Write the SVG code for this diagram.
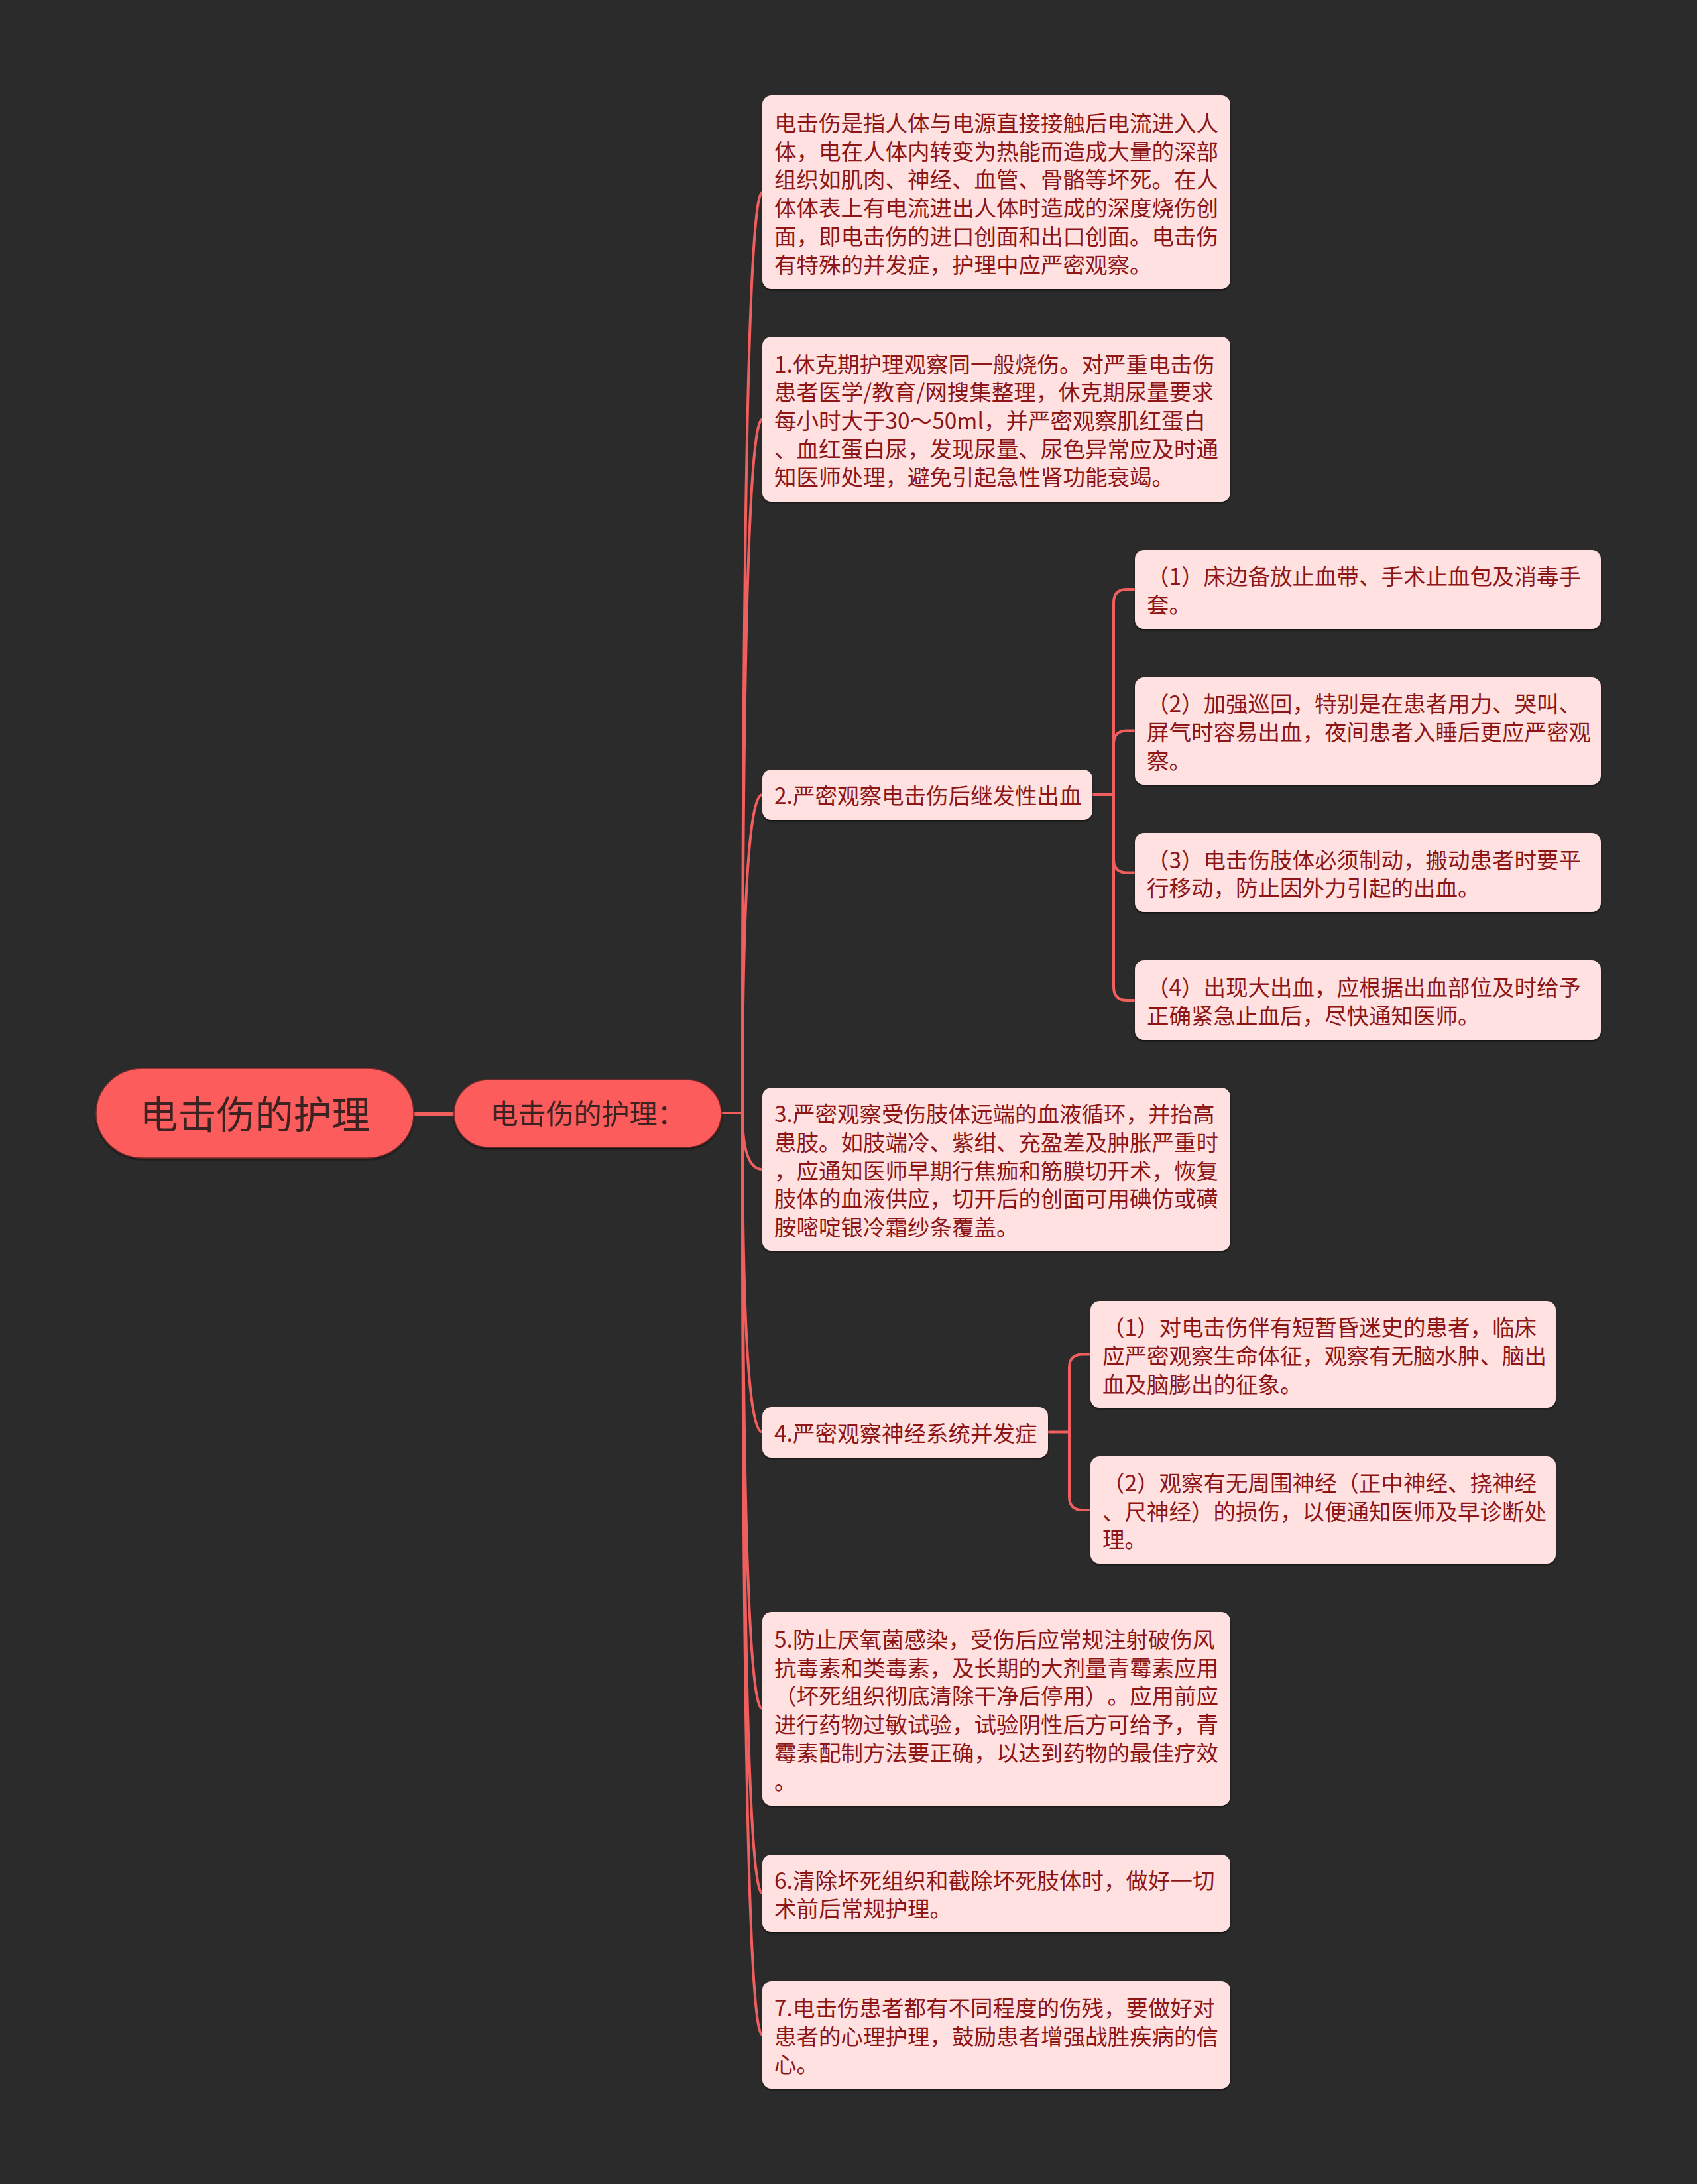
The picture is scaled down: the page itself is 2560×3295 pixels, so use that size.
<svg xmlns="http://www.w3.org/2000/svg" width="2560" height="3295" viewBox="0 0 2560 3295">
<style>
.bg{fill:#2b2b2b}
.leaf{fill:#ffe1e1;filter:url(#sh)}
.root{fill:#fd5b5b;stroke:#7a2a2a;stroke-width:1.5;filter:url(#sh)}
.t{font-family:"Noto Sans CJK SC","Noto Sans",sans-serif;font-size:33.5px;fill:#8e1616;text-spacing-trim:space-all}
.tr{font-family:"Noto Sans CJK SC","Noto Sans",sans-serif;font-size:58px;fill:#3d2222;text-anchor:middle}
.ts{font-family:"Noto Sans CJK SC","Noto Sans",sans-serif;font-size:42px;fill:#3d2222;text-anchor:middle}
.c{fill:none;stroke:#f05e5e;stroke-width:4;stroke-linecap:round}
.cw{fill:none;stroke:#f05e5e;stroke-width:6}
</style>
<defs>
<filter id="sh" x="-5%" y="-5%" width="110%" height="115%">
<feDropShadow dx="0" dy="2" stdDeviation="1.5" flood-color="#000" flood-opacity="0.6"/>
</filter>
</defs>
<rect class="bg" x="0" y="0" width="2560" height="3295"/>
<g id="connectors">
<path class="cw" d="M624 1680 H685"/>
<path class="c" d="M1088 1679 H1120"/>
<path class="c" d="M1120 1679 Q1120 290 1150 290"/>
<path class="c" d="M1120 1679 Q1120 632.5 1150 632.5"/>
<path class="c" d="M1120 1679 Q1120 1199 1150 1199"/>
<path class="c" d="M1120 1679 Q1120 1764 1150 1764"/>
<path class="c" d="M1120 1679 Q1120 2160.5 1150 2160.5"/>
<path class="c" d="M1120 1679 Q1120 2578 1150 2578"/>
<path class="c" d="M1120 1679 Q1120 2856.5 1150 2856.5"/>
<path class="c" d="M1120 1679 Q1120 3070 1150 3070"/>
<path class="c" d="M1648 1199 H1680"/>
<path class="c" d="M1680 1199 V909 Q1680 889 1700 889 H1712"/>
<path class="c" d="M1680 1199 V1122.5 Q1680 1102.5 1700 1102.5 H1712"/>
<path class="c" d="M1680 1199 V1296.5 Q1680 1316.5 1700 1316.5 H1712"/>
<path class="c" d="M1680 1199 V1489 Q1680 1509 1700 1509 H1712"/>
<path class="c" d="M1581 2160.5 H1613"/>
<path class="c" d="M1613 2160.5 V2063.5 Q1613 2043.5 1633 2043.5 H1645"/>
<path class="c" d="M1613 2160.5 V2258 Q1613 2278 1633 2278 H1645"/>
</g>
<g id="root">
<rect class="root" x="145" y="1612" width="479" height="135" rx="70" ry="67"/>
<text class="tr" x="384.5" y="1703">电击伤的护理</text>
</g>
<g id="main">
<rect class="root" x="685" y="1629" width="403" height="102" rx="52" ry="51"/>
<text class="ts" x="886.5" y="1696">电击伤的护理：</text>
</g>
<g id="n0">
<rect class="leaf" x="1150" y="144" width="706" height="292" rx="14"/>
<text class="t" x="1168"><tspan x="1168" y="198">电击伤是指人体与电源直接接触后电流进入人</tspan><tspan x="1168" y="240.7">体，电在人体内转变为热能而造成大量的深部</tspan><tspan x="1168" y="283.4">组织如肌肉、神经、血管、骨骼等坏死。在人</tspan><tspan x="1168" y="326.1">体体表上有电流进出人体时造成的深度烧伤创</tspan><tspan x="1168" y="368.8">面，即电击伤的进口创面和出口创面。电击伤</tspan><tspan x="1168" y="411.5">有特殊的并发症，护理中应严密观察。</tspan></text>
</g>
<g id="n1">
<rect class="leaf" x="1150" y="508" width="706" height="249" rx="14"/>
<text class="t" x="1168"><tspan x="1168" y="561.6">1.休克期护理观察同一般烧伤。对严重电击伤</tspan><tspan x="1168" y="604.3">患者医学/教育/网搜集整理，休克期尿量要求</tspan><tspan x="1168" y="647">每小时大于30～50ml，并严密观察肌红蛋白</tspan><tspan x="1168" y="689.7">、血红蛋白尿，发现尿量、尿色异常应及时通</tspan><tspan x="1168" y="732.4">知医师处理，避免引起急性肾功能衰竭。</tspan></text>
</g>
<g id="n2">
<rect class="leaf" x="1150" y="1161" width="498" height="76" rx="14"/>
<text class="t" x="1168" y="1212.5">2.严密观察电击伤后继发性出血</text>
</g>
<g id="c1">
<rect class="leaf" x="1712" y="830" width="703" height="119" rx="14"/>
<text class="t" x="1730"><tspan x="1730" y="882.2">（1）床边备放止血带、手术止血包及消毒手</tspan><tspan x="1730" y="924.9">套。</tspan></text>
</g>
<g id="c2">
<rect class="leaf" x="1712" y="1022" width="703" height="162" rx="14"/>
<text class="t" x="1730"><tspan x="1730" y="1074.3">（2）加强巡回，特别是在患者用力、哭叫、</tspan><tspan x="1730" y="1117">屏气时容易出血，夜间患者入睡后更应严密观</tspan><tspan x="1730" y="1159.7">察。</tspan></text>
</g>
<g id="c3">
<rect class="leaf" x="1712" y="1257" width="703" height="119" rx="14"/>
<text class="t" x="1730"><tspan x="1730" y="1309.7">（3）电击伤肢体必须制动，搬动患者时要平</tspan><tspan x="1730" y="1352.4">行移动，防止因外力引起的出血。</tspan></text>
</g>
<g id="c4">
<rect class="leaf" x="1712" y="1449" width="703" height="120" rx="14"/>
<text class="t" x="1730"><tspan x="1730" y="1502.2">（4）出现大出血，应根据出血部位及时给予</tspan><tspan x="1730" y="1544.9">正确紧急止血后，尽快通知医师。</tspan></text>
</g>
<g id="n3">
<rect class="leaf" x="1150" y="1641" width="706" height="246" rx="14"/>
<text class="t" x="1168"><tspan x="1168" y="1693.1">3.严密观察受伤肢体远端的血液循环，并抬高</tspan><tspan x="1168" y="1735.8">患肢。如肢端冷、紫绀、充盈差及肿胀严重时</tspan><tspan x="1168" y="1778.5">，应通知医师早期行焦痂和筋膜切开术，恢复</tspan><tspan x="1168" y="1821.2">肢体的血液供应，切开后的创面可用碘仿或磺</tspan><tspan x="1168" y="1863.9">胺嘧啶银冷霜纱条覆盖。</tspan></text>
</g>
<g id="n4">
<rect class="leaf" x="1150" y="2123" width="431" height="76" rx="14"/>
<text class="t" x="1168" y="2174.5">4.严密观察神经系统并发症</text>
</g>
<g id="d1">
<rect class="leaf" x="1645" y="1963" width="702" height="161" rx="14"/>
<text class="t" x="1663"><tspan x="1663" y="2015.3">（1）对电击伤伴有短暂昏迷史的患者，临床</tspan><tspan x="1663" y="2058">应严密观察生命体征，观察有无脑水肿、脑出</tspan><tspan x="1663" y="2100.7">血及脑膨出的征象。</tspan></text>
</g>
<g id="d2">
<rect class="leaf" x="1645" y="2197" width="702" height="162" rx="14"/>
<text class="t" x="1663"><tspan x="1663" y="2249.8">（2）观察有无周围神经（正中神经、挠神经</tspan><tspan x="1663" y="2292.5">、尺神经）的损伤，以便通知医师及早诊断处</tspan><tspan x="1663" y="2335.2">理。</tspan></text>
</g>
<g id="n5">
<rect class="leaf" x="1150" y="2432" width="706" height="292" rx="14"/>
<text class="t" x="1168"><tspan x="1168" y="2486">5.防止厌氧菌感染，受伤后应常规注射破伤风</tspan><tspan x="1168" y="2528.7">抗毒素和类毒素，及长期的大剂量青霉素应用</tspan><tspan x="1168" y="2571.4">（坏死组织彻底清除干净后停用）。应用前应</tspan><tspan x="1168" y="2614.1">进行药物过敏试验，试验阴性后方可给予，青</tspan><tspan x="1168" y="2656.8">霉素配制方法要正确，以达到药物的最佳疗效</tspan><tspan x="1168" y="2699.5">。</tspan></text>
</g>
<g id="n6">
<rect class="leaf" x="1150" y="2798" width="706" height="117" rx="14"/>
<text class="t" x="1168"><tspan x="1168" y="2849.7">6.清除坏死组织和截除坏死肢体时，做好一切</tspan><tspan x="1168" y="2892.4">术前后常规护理。</tspan></text>
</g>
<g id="n7">
<rect class="leaf" x="1150" y="2989" width="706" height="162" rx="14"/>
<text class="t" x="1168"><tspan x="1168" y="3041.8">7.电击伤患者都有不同程度的伤残，要做好对</tspan><tspan x="1168" y="3084.5">患者的心理护理，鼓励患者增强战胜疾病的信</tspan><tspan x="1168" y="3127.2">心。</tspan></text>
</g>
</svg>
